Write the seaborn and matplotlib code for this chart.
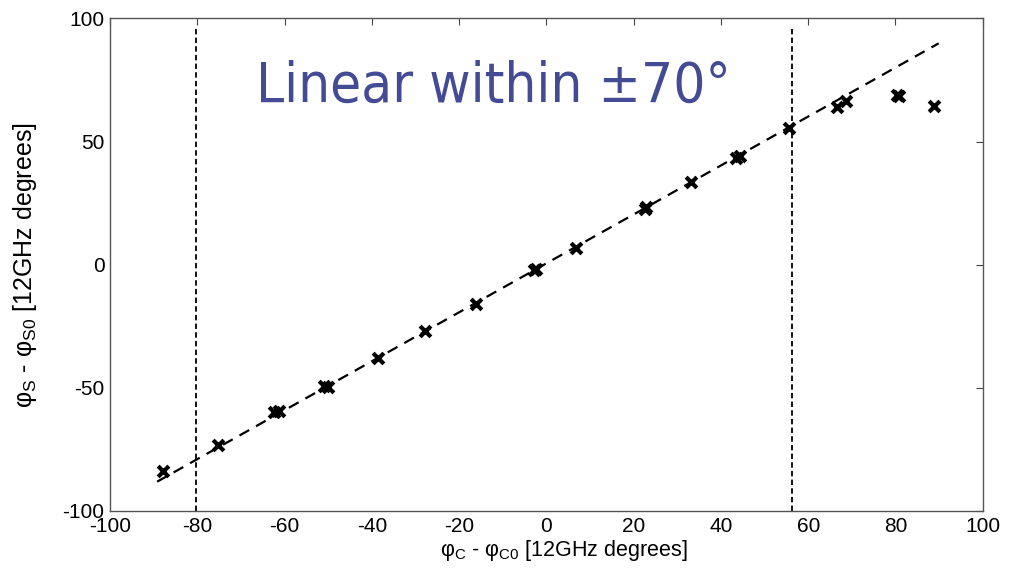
import matplotlib
matplotlib.use("Agg")
import matplotlib.pyplot as plt
from matplotlib import font_manager
import seaborn as sns
import pandas as pd

# Measured points
phase_c = [-87.8, -75.2, -62.4, -61.2, -51.0, -50.0, -38.6, -27.7, -16.2, -2.9, -2.4,
           6.7, 22.5, 22.9, 33.1, 43.4, 44.3, 55.7, 66.6, 68.6, 80.3, 80.8, 88.8]
phase_s = [-83.8, -73.0, -60.0, -59.4, -49.3, -49.5, -37.7, -27.0, -15.8, -2.3, -1.8,
           6.8, 22.8, 23.3, 33.7, 43.4, 44.0, 55.4, 64.2, 66.5, 68.8, 68.7, 64.5]

# Linear fit line endpoints
fit_x = [-89.2, 89.9]
fit_y = [-88.1, 89.9]

# Linear range boundaries
bound_x = [-80.3, 56.4]
bound_y = [-100, 97]

xticks = [-100, -80, -60, -40, -20, 0, 20, 40, 60, 80, 100]
yticks = [-100, -50, 0, 50, 100]

sns.set_theme(style="white")
plt.rcParams['font.family'] = ['Liberation Sans', 'DejaVu Sans']
plt.rcParams['mathtext.fontset'] = 'custom'
plt.rcParams['mathtext.rm'] = 'Liberation Sans'
plt.rcParams['axes.unicode_minus'] = False
plt.rcParams['text.color'] = 'black'
plt.rcParams['axes.labelcolor'] = 'black'

fig = plt.figure(figsize=(10.09, 5.77), dpi=100)
ax = fig.add_axes([0.109, 0.1144, 0.865, 0.8536])

df_pts = pd.DataFrame({"x": phase_c, "y": phase_s})
df_fit = pd.DataFrame({"x": fit_x, "y": fit_y})

sns.lineplot(data=df_fit, x="x", y="y", ax=ax, color="black", linewidth=1.6,
             linestyle=(0, (5, 3.5)), sort=False, estimator=None)
for bx in bound_x:
    df_b = pd.DataFrame({"x": [bx, bx], "y": bound_y})
    sns.lineplot(data=df_b, x="x", y="y", ax=ax, color="black", linewidth=1.3,
                 linestyle=(0, (3, 1.8)), sort=False, estimator=None)
sns.scatterplot(data=df_pts, x="x", y="y", ax=ax, marker="x", color="black",
                s=60, linewidth=3, zorder=5)

ax.set_xlim(-100, 100)
ax.set_ylim(-100, 100)
ax.set_xticks(xticks)
ax.set_yticks(yticks)
ax.tick_params(direction="in", length=5, width=0.8, color="#444444",
               labelsize=15, top=True, right=True, pad=4, labelcolor="black")
for sp in ax.spines.values():
    sp.set_color("#555555")
    sp.set_linewidth(1.0)

ax.set_xlabel(r"φ$_\mathregular{C}$ - φ$_\mathregular{C0}$ [12GHz degrees]", fontsize=15.5,
              labelpad=2, color="black")
ax.xaxis.label.set_x(0.52)
ax.set_ylabel(r"φ$_\mathregular{S}$ - φ$_\mathregular{S0}$ [12GHz degrees]", fontsize=18,
              labelpad=17, color="black")

# Title-like annotation: prefer a condensed DejaVu if available
has_condensed = any(f.name == "DejaVu Sans" and f.stretch in ("condensed", "semi-condensed")
                    for f in font_manager.fontManager.ttflist)
if has_condensed:
    ax.text(-66.5, 66.0, "Linear within ±70°", fontsize=40.5, color="#434B94",
            family=["DejaVu Sans"], stretch="condensed", ha="left", va="baseline")
else:
    ax.text(-66.5, 66.0, "Linear within ±70°", fontsize=37.5, color="#434B94",
            family=["DejaVu Sans"], ha="left", va="baseline")

fig.savefig("out.png", dpi=100)
